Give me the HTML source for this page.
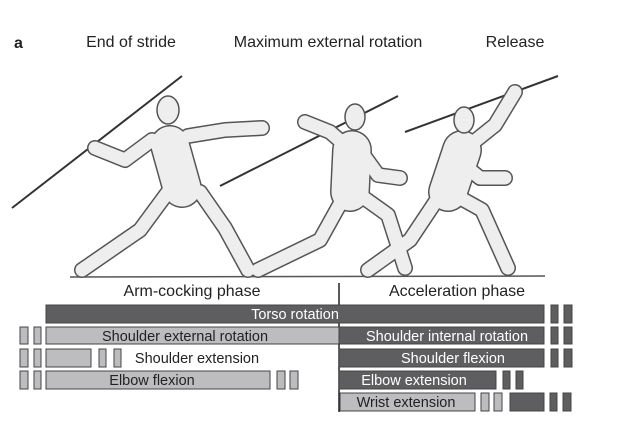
<!DOCTYPE html>
<html><head><meta charset="utf-8"><style>
body{margin:0;background:#fff;width:640px;height:426px;overflow:hidden;font-family:"Liberation Sans",sans-serif}
</style></head><body>
<svg width="640" height="426" viewBox="0 0 640 426" xmlns="http://www.w3.org/2000/svg" font-family="Liberation Sans, sans-serif">
<text x="14" y="48" font-size="16" font-weight="bold" fill="#222">a</text>
<text x="131" y="47" font-size="16" fill="#222" text-anchor="middle">End of stride</text>
<text x="328" y="47" font-size="16" fill="#222" text-anchor="middle">Maximum external rotation</text>
<text x="515" y="47" font-size="16" fill="#222" text-anchor="middle">Release</text>
<g stroke="#333" stroke-width="2">
<line x1="12" y1="208" x2="182" y2="76"/>
<line x1="220" y1="186" x2="398" y2="96"/>
<line x1="405" y1="132" x2="558" y2="76"/>
</g>
<line x1="70" y1="277" x2="545" y2="276" stroke="#555" stroke-width="1.5"/>
<g stroke="#555" stroke-linecap="round" stroke-linejoin="round" fill="none">
<g stroke-width="16">
<polyline points="95,148 125,160 152,140"/><polyline points="188,136 225,130 262,128"/>
<polyline points="168,192 140,230 82,270"/><polyline points="200,192 225,228 248,270"/>
<polyline points="305,122 330,132 345,145"/><polyline points="360,150 378,175 400,178"/>
<polyline points="345,195 320,240 258,270"/><polyline points="360,195 388,215 405,268"/>
<polyline points="515,92 495,125 470,145"/><polyline points="458,160 480,178 505,178"/>
<polyline points="440,195 410,240 368,270"/><polyline points="455,195 482,210 508,268"/>
</g>
<g stroke-width="40"><line x1="170" y1="145" x2="182" y2="188"/><line x1="352" y1="150" x2="350" y2="192"/><line x1="462" y1="150" x2="448" y2="192"/></g>
</g>
<g stroke="#eee" stroke-linecap="round" stroke-linejoin="round" fill="none">
<g stroke-width="13">
<polyline points="95,148 125,160 152,140"/><polyline points="188,136 225,130 262,128"/>
<polyline points="168,192 140,230 82,270"/><polyline points="200,192 225,228 248,270"/>
<polyline points="305,122 330,132 345,145"/><polyline points="360,150 378,175 400,178"/>
<polyline points="345,195 320,240 258,270"/><polyline points="360,195 388,215 405,268"/>
<polyline points="515,92 495,125 470,145"/><polyline points="458,160 480,178 505,178"/>
<polyline points="440,195 410,240 368,270"/><polyline points="455,195 482,210 508,268"/>
</g>
<g stroke-width="37"><line x1="170" y1="145" x2="182" y2="188"/><line x1="352" y1="150" x2="350" y2="192"/><line x1="462" y1="150" x2="448" y2="192"/></g>
</g>
<g fill="#eee" stroke="#555" stroke-width="1.5">
<ellipse cx="168" cy="110" rx="11" ry="14"/><ellipse cx="355" cy="117" rx="10" ry="13"/><ellipse cx="464" cy="120" rx="10" ry="13"/>
</g>
<text x="192" y="296" font-size="16" fill="#222" text-anchor="middle">Arm-cocking phase</text>
<text x="457" y="296" font-size="16" fill="#222" text-anchor="middle">Acceleration phase</text>
<line x1="339" y1="283" x2="339" y2="412" stroke="#222" stroke-width="1.5"/>
<g stroke="#444" stroke-width="1">
<rect x="46" y="305" width="498" height="18" fill="#5e5e60"/>
<rect x="551" y="305" width="7" height="18" fill="#5e5e60"/><rect x="564" y="305" width="8" height="18" fill="#5e5e60"/>
<rect x="20" y="327" width="8" height="17" fill="#bdbdbf"/><rect x="34" y="327" width="7" height="17" fill="#bdbdbf"/>
<rect x="46" y="327" width="293" height="17" fill="#bdbdbf"/>
<rect x="339" y="327" width="205" height="17" fill="#5e5e60"/>
<rect x="551" y="327" width="7" height="17" fill="#5e5e60"/><rect x="564" y="327" width="8" height="17" fill="#5e5e60"/>
<rect x="20" y="349" width="8" height="18" fill="#bdbdbf"/><rect x="34" y="349" width="7" height="18" fill="#bdbdbf"/>
<rect x="46" y="349" width="45" height="18" fill="#bdbdbf"/>
<rect x="99" y="349" width="7" height="18" fill="#bdbdbf"/><rect x="114" y="349" width="7" height="18" fill="#bdbdbf"/>
<rect x="339" y="349" width="205" height="18" fill="#5e5e60"/>
<rect x="551" y="349" width="7" height="18" fill="#5e5e60"/><rect x="564" y="349" width="8" height="18" fill="#5e5e60"/>
<rect x="20" y="371" width="8" height="18" fill="#bdbdbf"/><rect x="34" y="371" width="7" height="18" fill="#bdbdbf"/>
<rect x="46" y="371" width="224" height="18" fill="#bdbdbf"/>
<rect x="277" y="371" width="8" height="18" fill="#bdbdbf"/><rect x="290" y="371" width="8" height="18" fill="#bdbdbf"/>
<rect x="339" y="371" width="157" height="18" fill="#5e5e60"/>
<rect x="503" y="371" width="7" height="18" fill="#5e5e60"/><rect x="516" y="371" width="7" height="18" fill="#5e5e60"/>
<rect x="340" y="393" width="135" height="18" fill="#bdbdbf"/>
<rect x="481" y="393" width="8" height="18" fill="#bdbdbf"/><rect x="494" y="393" width="8" height="18" fill="#bdbdbf"/>
<rect x="510" y="393" width="34" height="18" fill="#5e5e60"/>
<rect x="550" y="393" width="7" height="18" fill="#5e5e60"/><rect x="563" y="393" width="8" height="18" fill="#5e5e60"/>
</g>
<g font-size="14.5">
<text x="295" y="319" fill="#fff" text-anchor="middle">Torso rotation</text>
<text x="185" y="341" fill="#222" text-anchor="middle">Shoulder external rotation</text>
<text x="447" y="341" fill="#fff" text-anchor="middle">Shoulder internal rotation</text>
<text x="197" y="363" fill="#222" text-anchor="middle">Shoulder extension</text>
<text x="453" y="363" fill="#fff" text-anchor="middle">Shoulder flexion</text>
<text x="152" y="385" fill="#222" text-anchor="middle">Elbow flexion</text>
<text x="414" y="385" fill="#fff" text-anchor="middle">Elbow extension</text>
<text x="406" y="407" fill="#222" text-anchor="middle">Wrist extension</text>
</g>
</svg>
</body></html>
